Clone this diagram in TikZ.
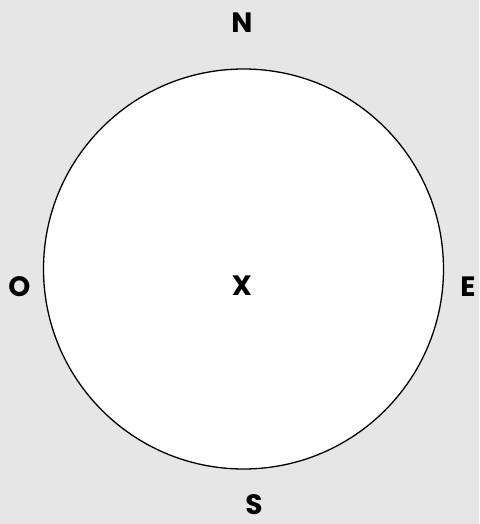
\documentclass[tikz,border=0pt]{standalone}
\usepackage{fontspec}
\setmainfont{Poppins}
\definecolor{bgc}{HTML}{E6E6E6}
\begin{document}
\begin{tikzpicture}[x=1pt,y=-1pt,
  lbl/.style={font=\fontsize{28}{30}\selectfont\bfseries, inner sep=0pt, anchor=center}]
\fill[bgc] (0,0) rectangle (479,524);
\useasboundingbox (0,0) rectangle (479,524);
\node[circle, draw=black, line width=1.3pt, fill=white, minimum size=400pt, inner sep=0pt] (c) at (243.5,269) {};
\node[lbl] (n) at (242,23) {N};
\node[lbl] (s) at (254,505) {S};
\node[lbl] (o) at (19.5,287) {O};
\node[lbl] (e) at (468,287) {E};
\node[lbl] (x) at (242,286) {X};
\end{tikzpicture}
\end{document}
